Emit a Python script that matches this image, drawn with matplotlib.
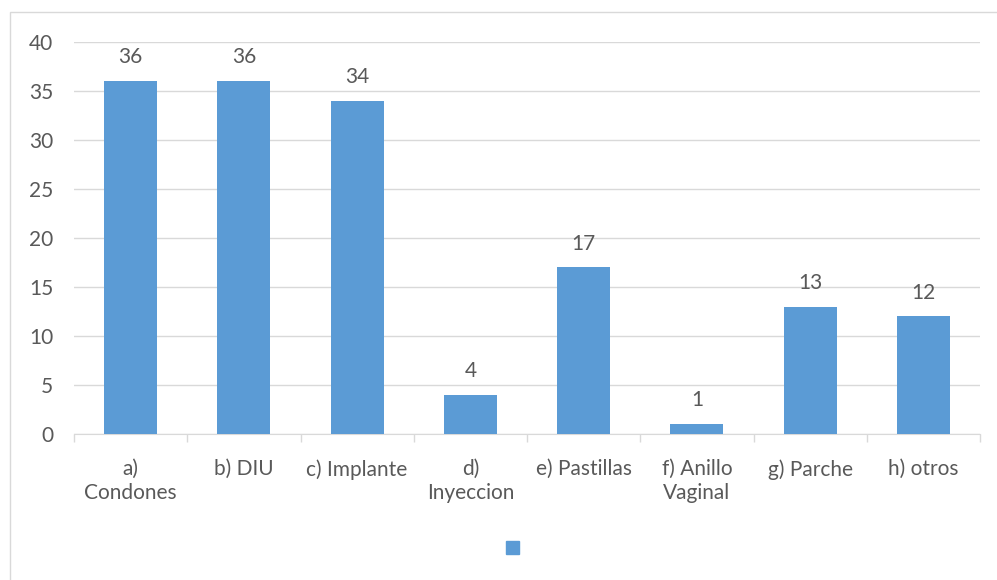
import matplotlib
matplotlib.use("Agg")
import matplotlib.pyplot as plt
from matplotlib.patches import Rectangle

# data
categories = ["a)\nCondones", "b) DIU", "c) Implante", "d)\nInyeccion",
              "e) Pastillas", "f) Anillo\nVaginal", "g) Parche", "h) otros"]
values = [36, 36, 34, 4, 17, 1, 13, 12]
yticks = [0, 5, 10, 15, 20, 25, 30, 35, 40]

bar_color = "#5b9bd5"
text_color = "#595959"
grid_color = "#d9d9d9"
fs = 15

plt.rcParams['font.family'] = ['Lato', 'DejaVu Sans']

fig = plt.figure(figsize=(9.97, 5.8), dpi=100)
ax = fig.add_axes([74 / 997, 1 - 434 / 580, 906 / 997, 392 / 580])

x = list(range(len(categories)))
ax.bar(x, values, width=0.47, color=bar_color, zorder=3)

for xi, v in zip(x, values):
    ax.annotate(str(v), (xi, v), xytext=(0, 10), textcoords='offset points',
                ha='center', va='bottom', fontsize=fs, color=text_color)

ax.set_xlim(-0.5, len(categories) - 0.5)
ax.set_ylim(0, 40)
ax.set_yticks(yticks)
ax.yaxis.grid(True, color=grid_color, lw=1, zorder=0)
ax.tick_params(axis='y', length=0, labelsize=fs, labelcolor=text_color, pad=15)

ax.set_xticks(x)
ax.set_xticklabels(categories, fontsize=fs, color=text_color, linespacing=1.25)
ax.tick_params(axis='x', length=0, pad=18)
# category boundary ticks
ax.set_xticks([i - 0.5 for i in range(len(categories) + 1)], minor=True)
ax.tick_params(axis='x', which='minor', length=6, color=grid_color, width=1)

for s in ['top', 'right', 'left']:
    ax.spines[s].set_visible(False)
ax.spines['bottom'].set_color(grid_color)

# legend marker (no label)
fig.patches.append(Rectangle((506 / 997, 1 - 554 / 580), 13 / 997, 13 / 580,
                             transform=fig.transFigure, color=bar_color))
# outer chart frame
fig.patches.append(Rectangle((10 / 997, -0.01), 990 / 997, 1 - 12 / 580 + 0.01,
                             transform=fig.transFigure, fill=False,
                             edgecolor=grid_color, lw=1))

fig.savefig("out.png", dpi=100)
